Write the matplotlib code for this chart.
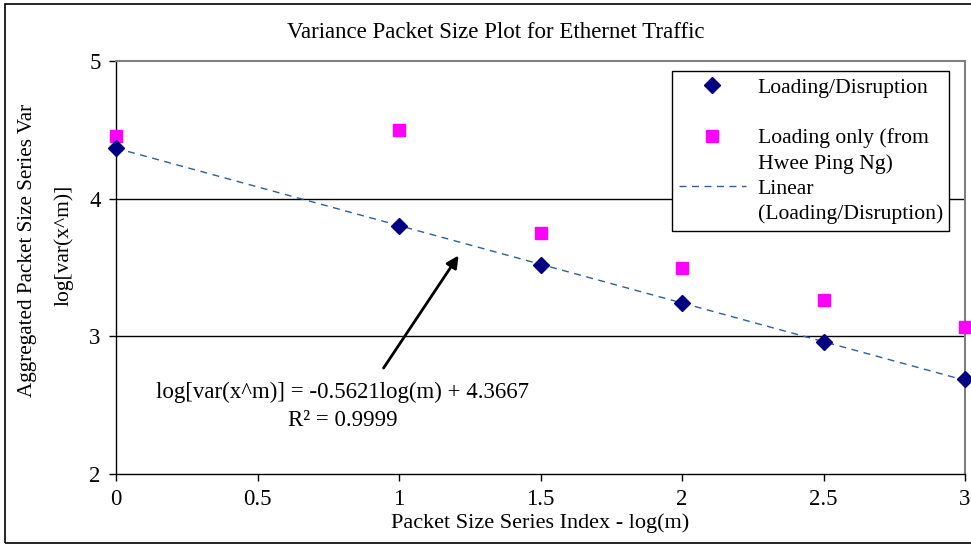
import matplotlib
matplotlib.use("Agg")
import matplotlib.pyplot as plt
from matplotlib.lines import Line2D
from matplotlib.patches import Rectangle

plt.rcParams['font.family'] = ['Liberation Serif', 'DejaVu Serif']

# log(m) index values
log_m = [0, 1, 1.5, 2, 2.5, 3]
# log[var(x^m)]
loading_disruption = [4.367, 3.80, 3.516, 3.24, 2.956, 2.687]
loading_only = [4.455, 4.498, 3.749, 3.495, 3.262, 3.065]

# linear trendline reported on the chart
slope = -0.5621
intercept = 4.3667
trend_x = [0, 3]
trend_y = [intercept + slope * x for x in trend_x]

x_ticks = [0, 0.5, 1, 1.5, 2, 2.5, 3]
x_ticklabels = ['0', '0.5', '1', '1.5', '2', '2.5', '3']
y_ticks = [2, 3, 4, 5]

fs = 16.5
W, H = 971, 546

fig = plt.figure(figsize=(9.71, 5.46), dpi=100)
ax = fig.add_axes([116 / W, 72 / H, 849 / W, 413 / H])

for y in [3, 4]:
    ax.axhline(y, color='black', lw=1.0, zorder=1)

ax.plot(trend_x, trend_y, linestyle=(0, (5, 4)), color='#2e5f96', lw=1.0, zorder=2)
ax.plot(log_m, loading_disruption, linestyle='none', marker='D', markersize=8.5,
        color='#000080', zorder=4, clip_on=False)
ax.plot(log_m, loading_only, linestyle='none', marker='s', markersize=8,
        color='#ff00ff', zorder=3, clip_on=False)

ax.set_xlim(0, 3)
ax.set_ylim(2, 5)
ax.set_xticks(x_ticks)
ax.set_xticklabels(x_ticklabels)
ax.set_yticks(y_ticks)
ax.tick_params(axis='both', direction='out', length=5, width=1, labelsize=fs, color='black')
ax.tick_params(axis='x', pad=6)
ax.tick_params(axis='y', pad=6)

for side in ['top', 'right']:
    ax.spines[side].set_color('#808080')
    ax.spines[side].set_linewidth(1.5)
for side in ['left', 'bottom']:
    ax.spines[side].set_color('black')
    ax.spines[side].set_linewidth(1.0)

fig.text(496 / W, 1 - 33 / H, 'Variance Packet Size Plot for Ethernet Traffic',
         fontsize=fs, ha='center', va='center')
fig.text(540 / W, 1 - 523 / H, 'Packet Size Series Index - log(m)',
         fontsize=16, ha='center', va='center')
fig.text(28 / W, 1 - 250 / H, 'Aggregated Packet Size Series Var',
         fontsize=15.2, ha='center', va='center', rotation=90)
fig.text(64 / W, 1 - 245 / H, 'log[var(x^m)]',
         fontsize=15.5, ha='center', va='center', rotation=90)

ax.annotate('', xy=(1.216, 3.604), xytext=(0.94, 2.753),
            arrowprops=dict(arrowstyle='-|>', color='black', lw=2, mutation_scale=18))
ax.text(0.80, 2.593, 'log[var(x^m)] = -0.5621log(m) + 4.3667', fontsize=fs,
        ha='center', va='center')
ax.text(0.80, 2.389, 'R² = 0.9999', fontsize=fs, ha='center', va='center')

blank = Line2D([], [], linestyle='none')
handles = [
    Line2D([], [], linestyle='none', marker='D', markersize=8.5, color='#000080'),
    blank,
    Line2D([], [], linestyle='none', marker='s', markersize=8, color='#ff00ff'),
    blank,
    Line2D([], [], linestyle=(0, (5, 4)), color='#2e5f96', lw=1.0),
    blank,
]
labels = ['Loading/Disruption', ' ', 'Loading only (from', 'Hwee Ping Ng)',
          'Linear', '(Loading/Disruption)']
leg = ax.legend(handles, labels, loc='upper left', bbox_to_anchor=(0.655, 0.976),
                fontsize=15.6, frameon=True, fancybox=False, edgecolor='black',
                framealpha=1, borderpad=0.3, labelspacing=0.24, handlelength=3.1,
                handletextpad=0.55, borderaxespad=0)
leg.get_frame().set_linewidth(1.0)

fig.patches.append(Rectangle((5 / W, 3 / H), 980 / W, 539 / H,
                             transform=fig.transFigure, fill=False,
                             edgecolor='black', lw=1.2))

fig.savefig('out.png', dpi=100)
